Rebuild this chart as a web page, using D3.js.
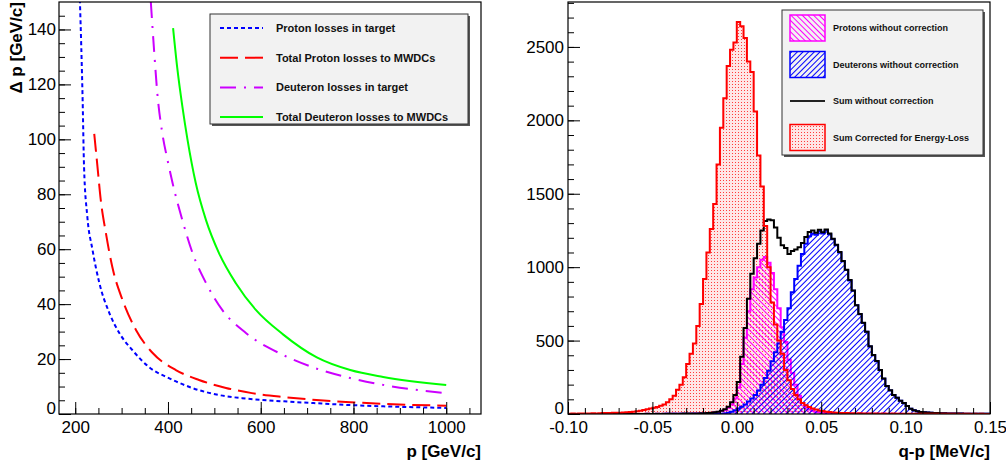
<!DOCTYPE html>
<html>
<head>
<meta charset="utf-8">
<script src="https://cdn.jsdelivr.net/npm/d3@7"></script>
<style>
body { margin: 0; background: #fff; }
text { font-family: "Liberation Sans", Arial, sans-serif; }
</style>
</head>
<body>
<svg id="canvas" width="1006" height="466"></svg>
<script>
// ---- left pad: momentum losses, [p, dp]
var protonTarget = [[210,151],[216,114],[219,90],[226,72],[237,60],[252,47.7],[273,37],[295,29.5],[323,23.3],
    [359,17.1],[403,13],[452,9.5],[510,6.9],[569,5.6],[650,4.6],[721,3.9],[800,3.2],[864,2.8],[1000,2.2]];
var protonTotal = [[241,102],[248,90],[255,78],[266,66],[280,53.5],[302,41.5],[331,30.6],[367,22.2],[417,16],
    [467,12.4],[525,9.5],[581,7.6],[648,6.2],[720,5.1],[793,4.3],[864,3.7],[1000,3]];
var deuteronTarget = [[363,150],[370,132.5],[377,116.8],[388,102],[399,92.5],[410,84],[431,70.6],[453,58.6],
    [482,47.7],[517,37.9],[568,29.5],[648,21.5],[721,16.5],[793,13.1],[864,10.6],[1000,7.6]];
var deuteronTotal = [[411,140.5],[420,126],[431,112],[442,100],[460,84],[482,70.6],[510,58.6],[546,47.7],
    [589,38],[648,29],[721,20.6],[793,16],[864,13.5],[1000,10.6]];

var pMajor = [200, 400, 600, 800, 1000];
var dpMajor = [0, 20, 40, 60, 80, 100, 120, 140];

// ---- right pad: q-p histograms, 125 bins of 0.002 starting at -0.10
var binStart = -0.1, binWidth = 0.002;
var corrected = [
    2,3,2,3,4,3,4,5,4,5,
    6,7,7,8,8,9,10,12,13,15,
    18,22,27,32,37,42,48,56,65,80,
    100,125,165,200,250,340,410,480,600,750,
    920,1100,1260,1430,1700,1950,2150,2370,2480,2530,
    2670,2640,2560,2400,2330,2060,1760,1550,1280,1000,
    760,610,500,410,300,230,170,130,100,75,
    60,48,38,30,24,20,16,13,11,9,
    7,6,6,5,5,4,5,4,4,3,
    3,3,2,3,2,2,3,2,2,2,
    2,1,2,2,1,2,1,1,2,1,
    1,1,2,1,1,1,0,1,1,0,
    1,0,1,0,0];
var protons = [
    0,0,0,0,0,0,0,0,0,0,
    0,0,0,0,0,0,0,0,0,0,
    0,0,0,1,0,0,1,0,1,1,
    1,1,1,1,2,2,2,3,3,4,
    4,5,7,10,14,20,28,42,65,105,
    180,340,520,700,850,930,1000,1050,1070,1030,
    960,850,720,590,490,370,280,200,125,75,
    45,30,20,14,10,8,6,5,4,3,
    3,2,2,2,1,1,1,1,1,1,
    1,1,0,1,0,1,0,0,1,0,
    0,0,0,0,0,0,0,0,0,0,
    0,0,0,0,0,0,0,0,0,0,
    0,0,0,0,0];
var deuterons = [
    0,0,0,0,0,0,0,0,0,0,
    0,0,0,0,0,0,0,0,0,0,
    0,0,0,0,0,0,0,0,0,1,
    0,1,0,1,1,1,1,1,1,1,
    1,1,2,2,2,2,4,8,15,25,
    38,50,65,85,105,130,160,200,245,295,
    360,420,480,560,640,720,830,920,1010,1090,
    1160,1210,1230,1220,1245,1230,1250,1225,1190,1150,
    1100,1040,980,910,840,740,680,620,560,460,
    400,360,300,240,190,160,130,110,90,75,
    55,35,25,18,14,12,10,8,7,6,
    5,5,4,4,3,3,3,2,2,2,
    2,1,1,1,1];
// sum of the two uncorrected spectra
var sumRaw = protons.map(function(v, i) { return v + deuterons[i]; });

var qMajor = [-0.10, -0.05, 0.00, 0.05, 0.10, 0.15];
var countMajor = [0, 500, 1000, 1500, 2000, 2500];

var svg = d3.select("#canvas");
var defs = svg.append("defs");

function hatch(id, color, angle) {
    var p = defs.append("pattern").attr("id", id)
        .attr("patternUnits", "userSpaceOnUse")
        .attr("width", 4).attr("height", 4)
        .attr("patternTransform", "rotate(" + angle + ")");
    p.append("line").attr("x1", 0.5).attr("y1", 0).attr("x2", 0.5).attr("y2", 4)
        .style("stroke", color).style("stroke-width", 1);
}
hatch("hMag", "#ff00ff", -45);
hatch("hBlue", "#0000ff", 45);
var dots = defs.append("pattern").attr("id", "dotsRed")
    .attr("patternUnits", "userSpaceOnUse").attr("width", 3).attr("height", 3);
dots.append("rect").attr("width", 3).attr("height", 3).style("fill", "#ffe6e6");
dots.append("rect").attr("width", 1).attr("height", 1).style("fill", "#ff3c3c");

var plainNum = function(d) { return String(d); };

// ================= left pad
var L = {x0: 59, x1: 481, y0: 2, y1: 414};
var xp = d3.scaleLinear().domain([165, 1075]).range([L.x0, L.x1]);
var yp = d3.scaleLinear().domain([0, 150]).range([L.y1, L.y0]);

defs.append("clipPath").attr("id", "clipL").append("rect")
    .attr("x", L.x0).attr("y", L.y0).attr("width", L.x1 - L.x0).attr("height", L.y1 - L.y0);

var gl = svg.append("g");
var line = d3.line().x(function(d) { return xp(d[0]); }).y(function(d) { return yp(d[1]); })
    .curve(d3.curveMonotoneX);

var curves = [
    {data: protonTarget, color: "#0000ff", dash: "4,3", name: "Proton losses in target"},
    {data: protonTotal, color: "#ff0000", dash: "18,7", name: "Total Proton losses to MWDCs"},
    {data: deuteronTarget, color: "#cc00ff", dash: "16,8,2,8", name: "Deuteron losses in target"},
    {data: deuteronTotal, color: "#00ff00", dash: null, name: "Total Deuteron losses to MWDCs"}
];
var cg = gl.append("g").attr("clip-path", "url(#clipL)");
curves.forEach(function(c) {
    cg.append("path").attr("d", line(c.data))
        .style("fill", "none").style("stroke", c.color).style("stroke-width", 2)
        .style("stroke-dasharray", c.dash);
});

function axisStyle(g) {
    g.select(".domain").remove();
    g.selectAll("line").style("stroke", "#000");
    g.selectAll("text").style("font-size", "17px").style("fill", "#000")
        .style("font-family", '"Liberation Sans", Arial, sans-serif');
}
// the zero label of a vertical axis sits a little above its tick, as in the original
function liftZero(g) {
    g.selectAll(".tick text").filter(function(d) { return d === 0; }).attr("dy", "-0.05em");
}

gl.append("g").attr("transform", "translate(0," + L.y1 + ")")
    .call(d3.axisBottom(xp).tickValues(d3.range(200, 1051, 50)).tickSizeInner(-6).tickSizeOuter(0).tickFormat(""))
    .call(axisStyle);
gl.append("g").attr("transform", "translate(0," + L.y1 + ")")
    .call(d3.axisBottom(xp).tickValues(pMajor).tickSizeInner(-12).tickSizeOuter(0).tickPadding(7)
        .tickFormat(plainNum))
    .call(axisStyle);
gl.append("g").attr("transform", "translate(" + L.x0 + ",0)")
    .call(d3.axisLeft(yp).tickValues(d3.range(0, 146, 5)).tickSizeInner(-6).tickSizeOuter(0).tickFormat(""))
    .call(axisStyle);
gl.append("g").attr("transform", "translate(" + L.x0 + ",0)")
    .call(d3.axisLeft(yp).tickValues(dpMajor).tickSizeInner(-12).tickSizeOuter(0).tickPadding(3)
        .tickFormat(plainNum))
    .call(axisStyle).call(liftZero);

gl.append("rect").attr("x", L.x0).attr("y", L.y0).attr("width", L.x1 - L.x0).attr("height", L.y1 - L.y0)
    .style("fill", "none").style("stroke", "#000").style("stroke-width", 1.2);

gl.append("text").attr("x", L.x1).attr("y", 457).attr("text-anchor", "end")
    .style("font-size", "17px").style("font-weight", "bold").text("p [GeV/c]");
gl.append("text").attr("transform", "translate(22," + L.y0 + ") rotate(-90)").attr("text-anchor", "end")
    .style("font-size", "17px").style("font-weight", "bold").text("\u0394 p [GeV/c]");

// legend
var lg = gl.append("g");
lg.append("rect").attr("x", 212).attr("y", 16).attr("width", 258).attr("height", 110).style("fill", "#555");
lg.append("rect").attr("x", 210).attr("y", 14).attr("width", 258).attr("height", 110)
    .style("fill", "#f2f2f2").style("stroke", "#333").style("stroke-width", 1);
curves.forEach(function(c, i) {
    var cy = 28 + i * 29.7;
    lg.append("line").attr("x1", 220).attr("x2", 263).attr("y1", cy).attr("y2", cy)
        .style("stroke", c.color).style("stroke-width", 2).style("stroke-dasharray", c.dash);
    lg.append("text").attr("x", 276).attr("y", cy + 4)
        .style("font-size", "11px").style("font-weight", "bold").style("fill", "#111").text(c.name);
});

// ================= right pad
var R = {x0: 568, x1: 990, y0: 2, y1: 414};
var xq = d3.scaleLinear().domain([-0.1, 0.15]).range([R.x0, R.x1]);
var yc = d3.scaleLinear().domain([0, 2806]).range([R.y1, R.y0]);

defs.append("clipPath").attr("id", "clipR").append("rect")
    .attr("x", R.x0).attr("y", R.y0).attr("width", R.x1 - R.x0).attr("height", R.y1 - R.y0);

function steps(values) {
    var pts = [[binStart, 0]];
    values.forEach(function(v, i) {
        var lo = binStart + i * binWidth;
        pts.push([lo, v], [lo + binWidth, v]);
    });
    pts.push([binStart + values.length * binWidth, 0]);
    return pts;
}
var stepLine = d3.line().x(function(d) { return xq(d[0]); }).y(function(d) { return yc(d[1]); });

var gr = svg.append("g");
var hg = gr.append("g").attr("clip-path", "url(#clipR)");
hg.append("path").attr("d", stepLine(steps(corrected))).style("fill", "url(#dotsRed)").style("stroke", "none");
hg.append("path").attr("d", stepLine(steps(protons)))
    .style("fill", "url(#hMag)").style("stroke", "#ff00ff").style("stroke-width", 2);
hg.append("path").attr("d", stepLine(steps(deuterons)))
    .style("fill", "url(#hBlue)").style("stroke", "#0000ff").style("stroke-width", 2);
hg.append("path").attr("d", stepLine(steps(sumRaw)))
    .style("fill", "none").style("stroke", "#000").style("stroke-width", 2);
hg.append("path").attr("d", stepLine(steps(corrected)))
    .style("fill", "none").style("stroke", "#ff0000").style("stroke-width", 2);

gr.append("g").attr("transform", "translate(0," + R.y1 + ")")
    .call(d3.axisBottom(xq).tickValues(d3.range(-10, 15).map(function(k) { return k / 100; }))
        .tickSizeInner(-6).tickSizeOuter(0).tickFormat(""))
    .call(axisStyle);
gr.append("g").attr("transform", "translate(0," + R.y1 + ")")
    .call(d3.axisBottom(xq).tickValues(qMajor).tickSizeInner(-12).tickSizeOuter(0).tickPadding(7)
        .tickFormat(function(d) { return d.toFixed(2); }))
    .call(axisStyle);
gr.append("g").attr("transform", "translate(" + R.x0 + ",0)")
    .call(d3.axisLeft(yc).tickValues(d3.range(0, 2801, 100)).tickSizeInner(-6).tickSizeOuter(0).tickFormat(""))
    .call(axisStyle);
gr.append("g").attr("transform", "translate(" + R.x0 + ",0)")
    .call(d3.axisLeft(yc).tickValues(countMajor).tickSizeInner(-12).tickSizeOuter(0).tickPadding(4)
        .tickFormat(plainNum))
    .call(axisStyle).call(liftZero);

gr.append("rect").attr("x", R.x0).attr("y", R.y0).attr("width", R.x1 - R.x0).attr("height", R.y1 - R.y0)
    .style("fill", "none").style("stroke", "#000").style("stroke-width", 1.2);

gr.append("text").attr("x", R.x1).attr("y", 457).attr("text-anchor", "end")
    .style("font-size", "17px").style("font-weight", "bold").text("q-p [MeV/c]");

// legend
var histLegend = [
    {name: "Protons without correction", fill: "url(#hMag)", color: "#ff00ff", box: true},
    {name: "Deuterons without correction", fill: "url(#hBlue)", color: "#0000ff", box: true},
    {name: "Sum without correction", color: "#222", box: false},
    {name: "Sum Corrected for Energy-Loss", fill: "url(#dotsRed)", color: "#ff0000", box: true}
];
var rg = gr.append("g");
rg.append("rect").attr("x", 784).attr("y", 12).attr("width", 201).attr("height", 145).style("fill", "#555");
rg.append("rect").attr("x", 782).attr("y", 10).attr("width", 201).attr("height", 145)
    .style("fill", "#f2f2f2").style("stroke", "#333").style("stroke-width", 1);
histLegend.forEach(function(h, i) {
    var cy = 28 + i * 36.5;
    if (h.box) {
        rg.append("rect").attr("x", 790).attr("y", cy - 13).attr("width", 35).attr("height", 26)
            .style("fill", h.fill).style("stroke", h.color).style("stroke-width", 1.5);
    } else {
        rg.append("line").attr("x1", 790).attr("x2", 825).attr("y1", cy).attr("y2", cy)
            .style("stroke", h.color).style("stroke-width", 2);
    }
    rg.append("text").attr("x", 833).attr("y", cy + 3)
        .style("font-size", "9px").style("font-weight", "bold").style("fill", "#111").text(h.name);
});
</script>
</body>
</html>
